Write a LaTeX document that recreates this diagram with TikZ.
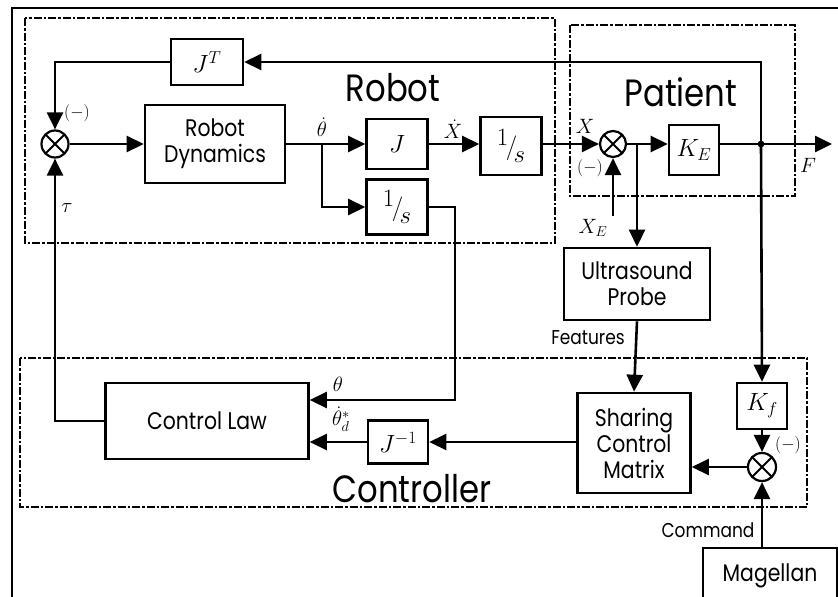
\documentclass[tikz,border=0pt]{standalone}
\usepackage{fontspec}
\setmainfont{Poppins}[FakeStretch=0.85]
\usetikzlibrary{arrows.meta,positioning,calc}

\newcommand{\oneovers}{\raisebox{0.36em}{$1$}\kern-0.1em{\fontsize{40}{40}\selectfont$/$}\kern-0.14em\raisebox{-0.3em}{$s$}}

\tikzset{
  blk/.style={draw,line width=2.6pt,inner sep=0pt,align=center,font=\fontsize{24}{26}\selectfont},
  mblk/.style={blk,font=\fontsize{26}{28}\selectfont},
  sumnode/.style={draw,circle,line width=2.2pt,minimum size=27pt,inner sep=0pt,
    path picture={\draw[line width=2pt] (path picture bounding box.south west)--(path picture bounding box.north east)
      (path picture bounding box.north west)--(path picture bounding box.south east);}},
  wire/.style={line width=2.6pt},
  arr/.style={wire,-{Triangle[length=17pt,width=16pt]}},
  grp/.style={line width=2.3pt,dash pattern=on 8pt off 2pt on 2.5pt off 2pt},
  title/.style={font=\fontsize{38}{40}\selectfont},
  lbl/.style={font=\fontsize{20}{22}\selectfont},
  mlbl/.style={font=\fontsize{20}{22}\selectfont},
  neg/.style={font=\fontsize{16}{18}\selectfont},
}

\begin{document}
\begin{tikzpicture}[x=1pt,y=-1pt]
  \useasboundingbox (0,0) rectangle (838,597);
  \draw[line width=1.4pt] (12,620) -- (12,8) -- (850,8);

  % groups
  \draw[grp] (25,18) rectangle (555,243);
  \draw[grp] (570,25) rectangle (795,196);
  \draw[grp] (20,358) rectangle (807,507);
  \node[title] (trobot) at (393,88) {Robot};
  \node[title] (tpatient) at (681,92) {Patient};
  \node[title] (tctrl) at (412,489) {Controller};

  % robot
  \node[mblk,minimum width=72pt,minimum height=46pt] (jt) at (207,62) {$J^T$};
  \node[sumnode] (s1) at (55,144) {};
  \node[blk,minimum width=140pt,minimum height=78pt] (dyn) at (215,144) {Robot\\Dynamics};
  \node[mblk,minimum width=61pt,minimum height=50pt] (jac) at (397,144) {$J$};
  \node[mblk,minimum width=61pt,minimum height=55pt] (intlow) at (397,207) {\oneovers};
  \node[mblk,minimum width=61pt,minimum height=58pt] (intup) at (511,146) {\oneovers};
  \coordinate (j1) at (322,144);

  % patient
  \node[sumnode,minimum size=26pt] (s2) at (613,144) {};
  \node[mblk,minimum width=50pt,minimum height=50pt] (ke) at (694,150) {$K_E$};
  \coordinate (jn) at (761,144);
  \coordinate (j2) at (637,144);
  \coordinate (fout) at (832,144);
  \coordinate (xe) at (613,216);

  % probe and controller
  \node[blk,minimum width=146pt,minimum height=72pt] (us) at (637,284) {Ultrasound\\Probe};
  \node[blk,minimum width=113pt,minimum height=100pt] (scm) at (634,443) {Sharing\\Control\\Matrix};
  \node[mblk,minimum width=50pt,minimum height=46pt] (kf) at (762,406) {$K_f$};
  \node[sumnode,minimum size=28pt] (s3) at (762,467) {};
  \node[blk,minimum width=134pt,minimum height=56pt] (mag) at (770,576) {Magellan};
  \node[blk,minimum width=203pt,minimum height=76pt] (cl) at (207,421) {Control Law};
  \node[mblk,minimum width=60pt,minimum height=43pt] (jinv) at (398,442) {$J^{-1}$};
  \coordinate (th) at (455,400);

  % connections
  \draw[arr] (jn) |- (jt.east);
  \draw[arr] (jt.west) -| (s1.north);
  \draw[arr] (s1.east) -- (dyn.west);
  \draw[arr] (dyn.east) -- (jac.west);
  \draw[arr] (j1) |- (intlow.west);
  \draw[arr] (jac.east) -- (intup.west |- jac.east);
  \draw[arr] (intup.east |- s2) -- (s2.west);
  \draw[arr] (s2.east) -- (ke.west |- s2);
  \draw[arr] (ke.east |- s2) -- (fout);
  \fill (jn) circle (3.4pt);
  \draw[arr] (xe) -- (s2.south);
  \draw[arr] (j2) -- (us.north);
  \draw[arr] (us.south) -- (scm.north);
  \draw[arr] (jn) -- (kf.north);
  \draw[arr] (kf.south) -- (s3.north);
  \draw[arr] (s3.south |- mag.north) -- (s3.south);
  \draw[arr] (s3.west) -- (s3.west -| scm.east);
  \draw[arr] (jinv.east -| scm.west) -- (jinv.east);
  \draw[arr] (jinv.west) -- (jinv.west -| cl.east);
  \draw[arr] (intlow.east) -| (th) -- (th -| cl.east);
  \draw[arr] (cl.west) -| (s1.south);

  % signal labels
  \node[neg] (n1) at (77,113) {$(-)$};
  \node[mlbl] (ltau) at (67,208) {$\tau$};
  \node[mlbl] (lthd) at (322,127) {$\dot\theta$};
  \node[mlbl] (lxd) at (453,129) {$\dot X$};
  \node[mlbl] (lx) at (585,126) {$X$};
  \node[neg] (n2) at (590,168) {$(-)$};
  \node[mlbl] (lxe) at (593,228) {$X_E$};
  \node[mlbl] (lf) at (808,165) {$F$};
  \node[lbl] (lfeat) at (588,338) {Features};
  \node[mlbl] (lth) at (338,384) {$\theta$};
  \node[mlbl] (lthds) at (341,419) {$\dot\theta_d^{*}$};
  \node[neg] (n3) at (788,445) {$(-)$};
  \node[lbl] (lcmd) at (708,530) {Command};
\end{tikzpicture}
\end{document}
